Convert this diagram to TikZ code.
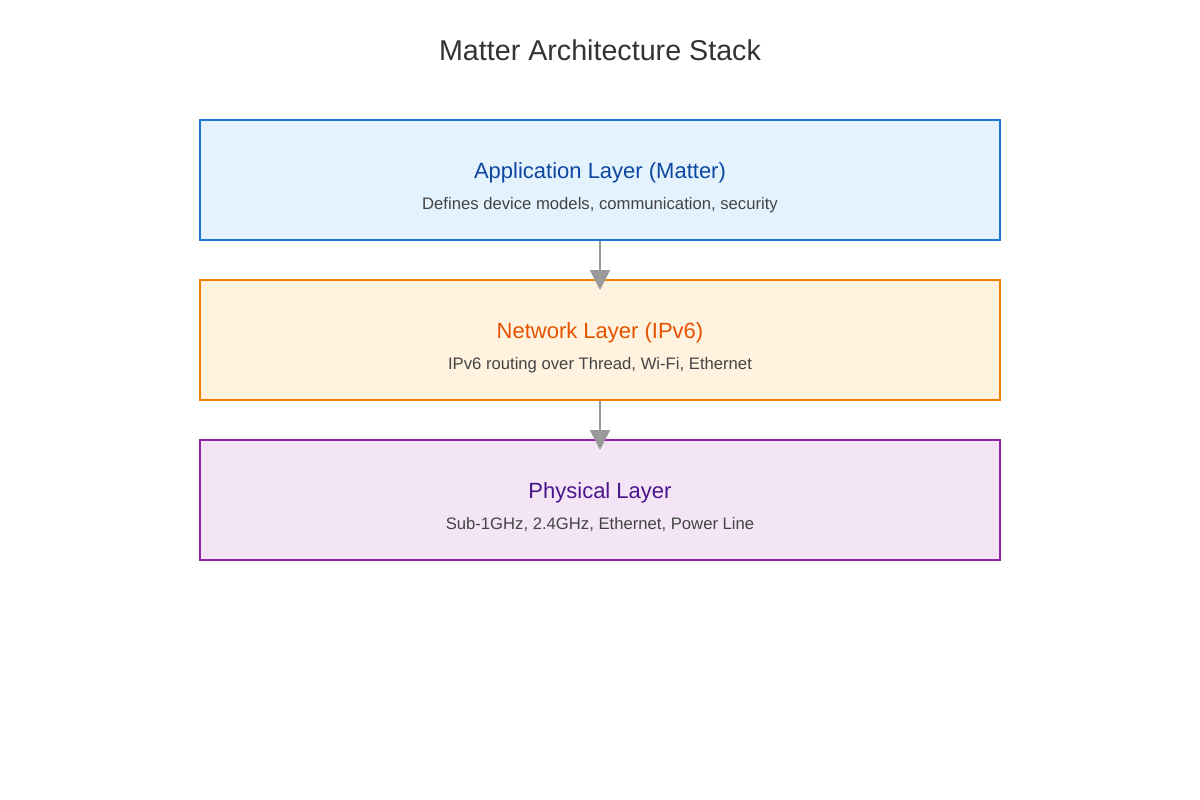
\documentclass[tikz,border=0pt]{standalone}
\usepackage{fontspec}
\setmainfont{Liberation Sans}
\usetikzlibrary{arrows.meta}
\definecolor{bB}{HTML}{1976D2}\definecolor{fB}{HTML}{E3F2FD}\definecolor{tB}{HTML}{0D47A1}
\definecolor{bO}{HTML}{F57C00}\definecolor{fO}{HTML}{FFF3E0}\definecolor{tO}{HTML}{E65100}
\definecolor{bP}{HTML}{8E24AA}\definecolor{fP}{HTML}{F3E5F5}\definecolor{tP}{HTML}{4A148C}
\definecolor{sub}{HTML}{444444}\definecolor{arr}{HTML}{999999}
\begin{document}
\begin{tikzpicture}[x=0.75pt,y=-0.75pt,
  layer/.style={draw=#1,line width=1.5pt,minimum width=600pt,minimum height=90pt,inner sep=0pt},
  ttl/.style={font=\fontsize{16.5}{20}\selectfont},
  sb/.style={text=sub,font=\fontsize{12.5}{15}\selectfont},
  conn/.style={draw=arr,line width=1.5pt,-{Triangle[length=15pt,width=15pt]}}]
\useasboundingbox (0,0) rectangle (1200,800);
\node[font=\fontsize{21.5}{26}\selectfont,text={rgb,255:red,51;green,51;blue,51}] (title) at (600,50) {Matter Architecture Stack};
\node[layer=bB,fill=fB] (app) at (600,180) {};
\node[layer=bO,fill=fO] (net) at (600,340) {};
\node[layer=bP,fill=fP] (phy) at (600,500) {};
\node[ttl,text=tB] (appt) at (600,173) {Application Layer (Matter)};
\node[sb] (apps) at (600,205) {Defines device models, communication, security};
\node[ttl,text=tO] (nett) at (600,333) {Network Layer (IPv6)};
\node[sb] (nets) at (600,365) {IPv6 routing over Thread, Wi-Fi, Ethernet};
\node[ttl,text=tP] (phyt) at (600,493) {Physical Layer};
\node[sb] (phys) at (600,525) {Sub-1GHz, 2.4GHz, Ethernet, Power Line};
\coordinate (e1) at (600,290);
\coordinate (e2) at (600,450);
\draw[conn] (app.south) -- (e1);
\draw[conn] (net.south) -- (e2);
\end{tikzpicture}
\end{document}
